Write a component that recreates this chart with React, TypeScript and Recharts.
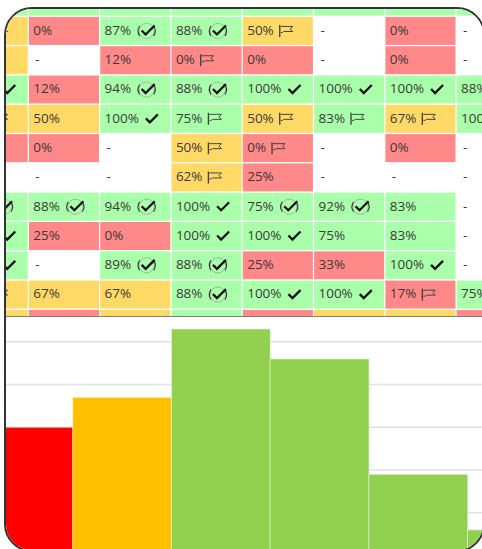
import React from "react";
import { BarChart, Bar, Cell, CartesianGrid, XAxis, YAxis, ScatterChart, Scatter } from "recharts";

// histogram at the bottom
const binLabels = ["a", "b", "c", "d", "e", "f"];
const binCounts = [30, 37, 53, 46, 19, 6];
const binColors = ["#FF0000", "#FFC000", "#92D050", "#92D050", "#92D050", "#92D050"];
const countTicks = [0, 10, 20, 30, 40, 50, 60];

// heat table, one array per row, columns 0-7 (null prints a dash)
const row00 = [100, 100, 100, 100, 100, 100, 100, 100];
const row01 = [50, 0, 87, 88, 50, null, 0, null];
const row02 = [50, null, 12, 0, 0, null, 0, null];
const row03 = [100, 12, 94, 88, 100, 100, 100, 88];
const row04 = [50, 50, 100, 75, 50, 83, 67, 100];
const row05 = [0, 0, null, 50, 0, null, 0, null];
const row06 = [null, null, null, 62, 25, null, null, null];
const row07 = [88, 88, 94, 100, 75, 92, 83, null];
const row08 = [100, 25, 0, 100, 100, 75, 83, null];
const row09 = [100, null, 89, 88, 25, 33, 100, null];
const row10 = [50, 67, 67, 88, 100, 100, 17, 75];
const row11 = [50, 0, 50, 100, 0, 50, 50, 0];
const tableValues = [row00, row01, row02, row03, row04, row05, row06, row07, row08, row09, row10, row11];

// c = circled tick, k = tick, f = flag, . = none
const tableIcons = [
  "........",
  "f.ccf...",
  "...f....",
  "k.cckkk.",
  "f.kffff.",
  "...ff...",
  "...f....",
  "ccckcc..",
  "k..kk...",
  "k.cc..k.",
  "f..ckkf.",
  "........",
];

const cellFill = (v: number | null) => {
  if (v === null) return "#FFFFFF";
  if (v < 50) return "#FF8888";
  if (v < 75) return "#FFD966";
  return "#AAFFAA";
};

const tableCells = tableValues.flatMap((vals, row) =>
  vals.map((value, col) => ({ row, col, value, icon: tableIcons[row][col] }))
);

const COL_W = 71.3;
const ROW_H = 29.3;

function HeatCell(props: any) {
  const { cx, cy, payload } = props;
  const { value, icon, row, col } = payload;
  const left = cx - COL_W / 2;
  const label = value === null ? "-" : value + "%";
  const textW = value === null ? 0 : String(value).length * 7.72 + 11.1;
  const ix = left + 5 + textW + 6;
  // first column and the two cut rows have their text outside the frame
  const hasLabel = col > 0 && row > 0 && row < 11;
  return (
    <g>
      <rect x={left + 0.6} y={cy - ROW_H / 2 + 0.6} width={COL_W - 1.2} height={ROW_H - 1.3} fill={cellFill(value)} />
      {hasLabel && (
        <text x={value === null ? left + 7 : left + 5} y={cy + 3.8} fontFamily="'Open Sans'" fontSize={13.5} fill="#3a3a3a">
          {label}
        </text>
      )}
      {icon === "k" && (
        <path d={`M${ix + 1},${cy - 0.5} l4,4 l8,-8`} fill="none" stroke="#111" strokeWidth={2.3} />
      )}
      {icon === "c" && (
        <g fill="none">
          <circle cx={ix + 9.5} cy={cy} r={7.6} stroke="#999" strokeWidth={0.7} />
          <path d={`M${ix + 2.5},${cy - 5} A9,9 0 0 0 ${ix + 2.5},${cy + 5}`} stroke="#333" strokeWidth={1.1} />
          <path d={`M${ix + 16.5},${cy - 5} A9,9 0 0 1 ${ix + 16.5},${cy + 5}`} stroke="#333" strokeWidth={1.1} />
          <path d={`M${ix + 4.5},${cy - 0.5} l4,4 l9,-9`} stroke="#111" strokeWidth={2.3} />
        </g>
      )}
      {icon === "f" && (
        <g fill="none" stroke="#444">
          <path d={`M${ix},${cy - 6} v12`} strokeWidth={1.4} />
          <path d={`M${ix + 1},${cy - 4.5} h12 l-2.5,2.5 l2.5,2.5 h-9 l-1,1 h-2`} strokeWidth={1} />
        </g>
      )}
    </g>
  );
}

export default function App() {
  return (
    <div style={{ position: "absolute", left: 0, top: 0, width: 482, height: 549, overflow: "hidden", background: "#fff" }}>
      <div
        style={{
          position: "absolute",
          left: 4.3,
          top: 6.5,
          width: 480.5,
          height: 545.5,
          boxSizing: "border-box",
          border: "2px solid #333",
          borderRadius: 28,
          overflow: "hidden",
          background: "#fff",
        }}
      >
        {/* page coordinates inside the frame */}
        <div style={{ position: "absolute", left: -6.3, top: -8.5, width: 482, height: 549 }}>
          <div style={{ position: "absolute", left: -26.5, top: 299 }}>
            <BarChart
              width={592.2}
              height={256.5}
              data={binLabels.map((label, i) => ({ label, count: binCounts[i] }))}
              margin={{ top: 0, right: 0, left: 0, bottom: 0 }}
              barCategoryGap={0}
            >
              <CartesianGrid horizontal vertical={false} stroke="#E0E0E0" strokeWidth={1.6} />
              <XAxis dataKey="label" hide />
              <YAxis hide domain={[0, 60]} ticks={countTicks} />
              <Bar dataKey="count" isAnimationActive={false} stroke="#fff" strokeOpacity={0.55} strokeWidth={1}>
                {binColors.map((c, i) => (
                  <Cell key={i} fill={c} />
                ))}
              </Bar>
            </BarChart>
          </div>
          <div
            style={{
              position: "absolute",
              left: 0,
              top: 0,
              width: 482,
              height: 317,
              overflow: "hidden",
              background: "#fff",
              borderBottom: "1px solid #808080",
              boxSizing: "border-box",
            }}
          >
            <div style={{ position: "absolute", left: -42.8, top: -12.8 }}>
              <ScatterChart width={COL_W * 8} height={ROW_H * 12} margin={{ top: 0, right: 0, left: 0, bottom: 0 }}>
                <XAxis type="number" dataKey="col" domain={[-0.5, 7.5]} hide />
                <YAxis type="number" dataKey="row" domain={[-0.5, 11.5]} reversed hide />
                <Scatter data={tableCells} isAnimationActive={false} shape={HeatCell} />
              </ScatterChart>
            </div>
          </div>
        </div>
      </div>
    </div>
  );
}
